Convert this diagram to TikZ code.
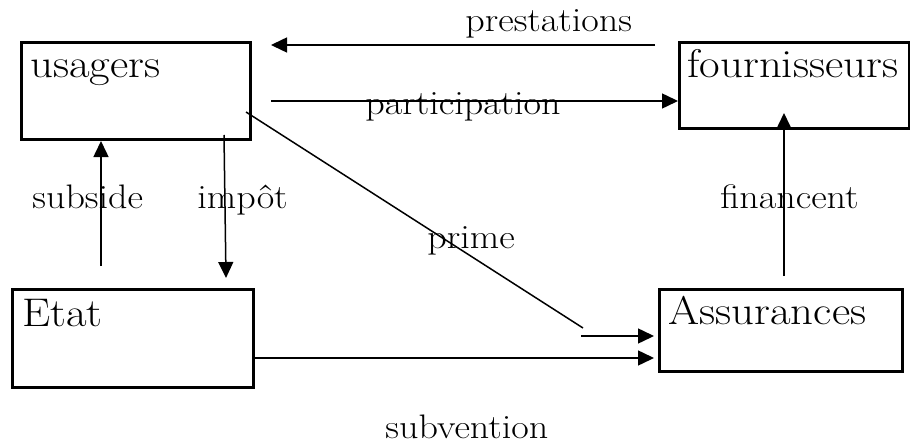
\documentclass[tikz,border=0pt]{standalone}
\usepackage{fontspec}
\setmainfont{Latin Modern Roman}[FakeStretch=1.12]
\usepackage{tikz}
\usetikzlibrary{arrows.meta}

\begin{document}
\begin{tikzpicture}[x=0.5pt,y=-0.5pt,
  box/.style={draw,line width=1.5pt,anchor=north west,inner sep=0pt},
  boxtext/.style={anchor=base west,inner sep=0pt,font=\fontsize{20}{24}\selectfont},
  lbl/.style={anchor=base west,inner sep=0pt,font=\fontsize{17}{20}\selectfont},
  flow/.style={-{Triangle[length=8pt,width=7.5pt]},line width=0.75pt},
  plain/.style={line width=0.75pt}]
\useasboundingbox (0,0) rectangle (910,444);
%boites
\node[box,minimum width=114.5pt,minimum height=48.5pt] (u) at (20,41) {};
\node[box,minimum width=115pt,minimum height=43pt] (f) at (678,41) {};
\node[box,minimum width=120.5pt,minimum height=49pt] (e) at (11,288) {};
\node[box,minimum width=121.5pt,minimum height=41pt] (a) at (658,288) {};
\node[boxtext] (tu) at ([xshift=5pt,yshift=-18.5pt]u.north west) {usagers};
\node[boxtext] (tf) at ([xshift=4.5pt,yshift=-18.5pt]f.north west) {fournisseurs};
\node[boxtext] (te) at ([xshift=5.5pt,yshift=-19pt]e.north west) {Etat};
\node[boxtext] (ta) at ([xshift=5pt,yshift=-18pt]a.north west) {Assurances};
%points libres
\coordinate (pr) at (655,45);
\coordinate (pr2) at (271,45);
\coordinate (pa) at (271,101);
\coordinate (sb) at (101,266);
\coordinate (im) at (224,135);
\coordinate (im2) at (226,278);
\coordinate (pm) at (246,112);
\coordinate (pm2) at (583,328);
\coordinate (pm3) at (581,336);
\coordinate (sv) at (255,358);
\coordinate (fi) at (784,276);
\coordinate (fi2) at (784,113);
%fleches
\draw[flow] (pr)--(pr2);
\draw[flow] (pa)--(pa -| f.west);
\draw[flow] (sb)--(sb |- u.south);
\draw[flow] (im)--(im2);
\draw[plain] (pm)--(pm2);
\draw[flow,shorten >=2pt] (pm3)--(pm3 -| a.west);
\draw[flow,shorten >=2pt] (sv)--(sv -| a.west);
\draw[flow] (fi)--(fi2);
%textes
\node[lbl] (lpr) at (465,32) {prestations};
\node[lbl] (lpa) at (365,115) {participation};
\node[lbl] (lsb) at (32,208) {subside};
\node[lbl] (lim) at (197,208) {impôt};
\node[lbl] (lpm) at (427,248) {prime};
\node[lbl] (lfi) at (720,208) {financent};
\node[lbl] (lsv) at (385,438) {subvention};
\end{tikzpicture}
\end{document}
